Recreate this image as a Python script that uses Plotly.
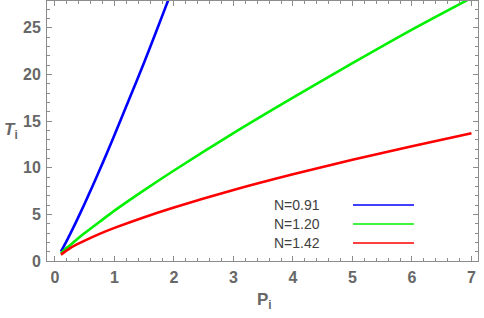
import plotly.graph_objects as go

# Data
p_blue = [0.1, 0.175, 0.25, 0.375, 0.5, 0.625, 0.75, 0.875, 1.0, 1.25, 1.5, 1.75, 1.9, 2.0]
t_blue = [1.0, 1.88, 2.82, 4.46, 6.17, 7.94, 9.75, 11.6, 13.5, 17.4, 21.3, 25.4, 27.9, 29.5]

p_green = [0.1, 0.175, 0.25, 0.375, 0.5, 0.75, 1.0, 1.5, 2.0, 3.0, 4.0, 5.0, 6.0, 7.0]
t_green = [0.85, 1.3, 1.66, 2.36, 3.0, 4.2, 5.4, 7.6, 9.7, 13.7, 17.5, 21.2, 24.8, 28.2]

p_red = [0.1, 0.175, 0.25, 0.375, 0.5, 0.75, 1.0, 1.5, 2.0, 3.0, 4.0, 5.0, 6.0, 7.0]
t_red = [0.68, 1.03, 1.36, 1.80, 2.19, 2.91, 3.55, 4.7, 5.74, 7.61, 9.29, 10.85, 12.31, 13.7]

series_names = ["N=0.91", "N=1.20", "N=1.42"]
series_colors = ["rgb(0,0,255)", "rgb(0,240,0)", "rgb(255,0,0)"]
x_ticks = [0, 1, 2, 3, 4, 5, 6, 7]
y_ticks = [0, 5, 10, 15, 20, 25]

fig = go.Figure()
for px, ty, col in zip([p_blue, p_green, p_red], [t_blue, t_green, t_red], series_colors):
    fig.add_trace(go.Scatter(x=px, y=ty, mode="lines",
                             line=dict(color=col, width=2.6, shape="spline", smoothing=0.8),
                             showlegend=False, hoverinfo="skip"))

W, H = 484, 318
ml, mr, mt, mb = 47, 6, 1, 57
frame_col = "#8c8c8c"
lab_col = "#676767"
FONT = "Liberation Sans, Arial, sans-serif"
axis_common = dict(showline=True, linecolor=frame_col, linewidth=1, mirror="allticks",
                   ticks="inside", tickcolor=frame_col, ticklen=5, tickwidth=1,
                   showgrid=False, zeroline=False, automargin=False,
                   tickfont=dict(family=FONT, size=16, color=lab_col))

fig.update_xaxes(range=[-0.134, 7.11], tickvals=x_ticks,
                 ticktext=["<b>%d</b>" % v for v in x_ticks], ticklabelstandoff=2,
                 minor=dict(dtick=0.2, tick0=0, ticks="inside", ticklen=3, tickcolor=frame_col, showgrid=False),
                 **axis_common)
fig.update_yaxes(range=[0, 27.87], tickvals=y_ticks,
                 ticktext=["<b>%d</b>" % v for v in y_ticks], ticklabelstandoff=2,
                 minor=dict(dtick=1, tick0=0, ticks="inside", ticklen=3, tickcolor=frame_col, showgrid=False),
                 **axis_common)

PW = W - ml - mr
PH = H - mt - mb


def px_x(v):
    return (v - ml) / PW


def px_y(v):
    return (H - mb - v) / PH


annotations = [
    dict(text="<b><i>T</i></b><sub><b>i</b></sub>", x=px_x(2), y=px_y(131), xanchor="left",
         font=dict(family=FONT, size=17, color=lab_col)),
    dict(text="<b>P</b><sub><b>i</b></sub>", x=px_x(264), y=px_y(314),
         font=dict(family=FONT, size=17, color=lab_col)),
]
for a in annotations:
    a.update(xref="paper", yref="paper", showarrow=False)

legend_y = [205, 224, 243]
shapes = []
for name, col, yy in zip(series_names, series_colors, legend_y):
    annotations.append(dict(text=name, x=px_x(272), y=px_y(yy), xref="paper", yref="paper",
                            xanchor="left", yanchor="middle", showarrow=False,
                            font=dict(family=FONT, size=14, color="#404040")))
    shapes.append(dict(type="line", xref="paper", yref="paper",
                       x0=px_x(353), x1=px_x(414), y0=px_y(yy), y1=px_y(yy),
                       line=dict(color=col, width=1.6)))

fig.update_layout(width=W, height=H, margin=dict(l=ml, r=mr, t=mt, b=mb),
                  plot_bgcolor="white", paper_bgcolor="white",
                  annotations=annotations, shapes=shapes, showlegend=False)

fig.write_html("out.html", config={"displayModeBar": False},
               post_script="document.body.style.margin='0';document.body.style.overflow='hidden';")
